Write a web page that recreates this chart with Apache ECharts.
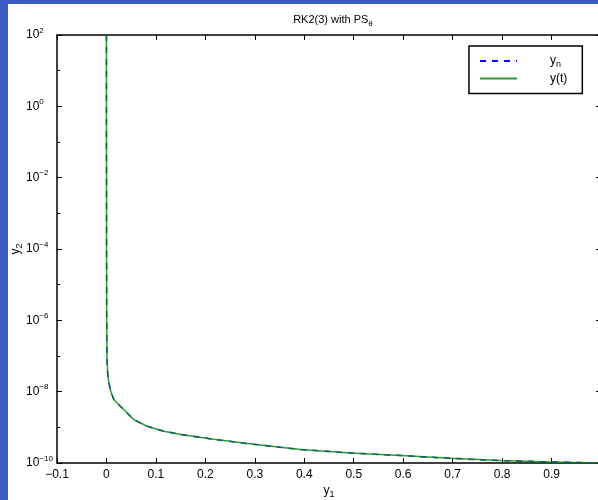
<!DOCTYPE html>
<html>
<head>
<meta charset="utf-8">
<title>RK2(3) with PS</title>
<script src="https://cdn.jsdelivr.net/npm/echarts@6/dist/echarts.min.js"></script>
<style>
  html, body { margin: 0; padding: 0; background: #fff; }
  #chart { width: 598px; height: 500px; }
</style>
</head>
<body>
<div id="chart"></div>
<script>
// values (y1 on x, y2 on a log scale)
const y1Values = [0, 0, 0.0002, 0.0005, 0.001, 0.0025, 0.0047, 0.009, 0.0148, 0.028, 0.055,
  0.082, 0.116, 0.15, 0.217, 0.285, 0.352, 0.392, 0.494, 0.595, 0.696, 0.797, 0.898, 1.0];
const y2Values = [100, 1, 1e-4, 1e-6, 1e-7, 3.2e-8, 1.8e-8, 1.0e-8, 6.0e-9, 3.9e-9, 1.66e-9,
  1.07e-9, 7.8e-10, 6.3e-10, 4.6e-10, 3.5e-10, 2.75e-10, 2.4e-10, 1.9e-10, 1.62e-10, 1.35e-10,
  1.17e-10, 1.07e-10, 1.0e-10];
// numerical solution y_n sits on top of the exact one
const ynY1 = y1Values.slice();
const ynY2 = y2Values.slice();

const xTicks = { min: -0.1, max: 1.0, step: 0.1 };
const yTicks = { min: 1e-10, max: 1e2 };

const font = 'Liberation Sans, Arial, Helvetica, sans-serif';

function pairs(xs, ys) {
  return xs.map((x, i) => [x, ys[i]]);
}

function xLabel(v) {
  if (v > 0.95) return '';
  const s = Math.abs(v) < 1e-9 ? '0' : (+v.toFixed(1)).toString();
  return s.replace('-', '\u2212');
}

function yLabel(v) {
  const e = Math.round(Math.log10(v));
  return '{b|10}{s|' + String(e).replace('-', '\u2212') + '}';
}

const chart = echarts.init(document.getElementById('chart'));

const tickStyle = { color: '#000', width: 1 };
const axisLine = { show: true, onZero: false, lineStyle: { color: '#000', width: 1.5 } };
const noLine = { show: false, onZero: false };

chart.setOption({
  animation: false,
  backgroundColor: '#fff',
  textStyle: { fontFamily: font },
  title: {
    text: 'RK2(3) with PS{s|\u03b8}',
    left: 328,
    textAlign: 'center',
    top: 7,
    textStyle: {
      fontFamily: font, fontSize: 11, fontWeight: 'normal', color: '#000',
      rich: { s: { fontFamily: font, fontSize: 8, color: '#000', padding: [8, 0, 0, 0] } }
    }
  },
  graphic: [
    { type: 'rect', shape: { x: 0, y: 0, width: 8, height: 500 }, style: { fill: '#3a5bc7' }, z: 100 },
    { type: 'rect', shape: { x: 0, y: 0, width: 598, height: 4 }, style: { fill: '#3a5bc7' }, z: 100 }
  ],
  grid: { left: 57, top: 35, width: 544, height: 428, outerBoundsMode: 'none', containLabel: false },
  legend: {
    orient: 'vertical',
    left: 469,
    top: 46,
    padding: [9, 15, 9, 10],
    itemWidth: 37,
    itemHeight: 14,
    itemGap: 3,
    borderColor: '#000',
    borderWidth: 1.5,
    backgroundColor: '#fff',
    itemStyle: { opacity: 0, borderWidth: 0 },
    data: ['yn', 'y(t)'],
    formatter: function (name) {
      return name === 'yn' ? '{b|y}{s|n}' : '{b|y(t)}';
    },
    textStyle: {
      fontFamily: font, fontSize: 12, color: '#000', padding: [0, 0, 0, 28],
      rich: {
        b: { fontFamily: font, fontSize: 12, color: '#000' },
        s: { fontFamily: font, fontSize: 9, color: '#000', padding: [8, 0, 0, 0] }
      }
    }
  },
  xAxis: [
    {
      type: 'value', position: 'bottom',
      min: xTicks.min, max: xTicks.max, interval: xTicks.step,
      axisLine: axisLine,
      axisTick: { show: true, inside: true, length: 5, lineStyle: tickStyle },
      splitLine: { show: false },
      axisLabel: { margin: 6, fontFamily: font, fontSize: 12, color: '#000', formatter: xLabel, showMaxLabel: true },
      name: '{b|y}{s|1}',
      nameLocation: 'middle',
      nameGap: 19,
      nameMoveOverlap: false,
      nameTextStyle: {
        fontFamily: font, fontSize: 12, color: '#000',
        rich: {
          b: { fontFamily: font, fontSize: 12, color: '#000' },
          s: { fontFamily: font, fontSize: 9, color: '#000', padding: [8, 0, 0, 0] }
        }
      }
    },
    {
      type: 'value', position: 'top',
      min: xTicks.min, max: xTicks.max, interval: xTicks.step,
      axisLine: axisLine,
      axisTick: { show: true, inside: true, length: 5, lineStyle: tickStyle },
      splitLine: { show: false },
      axisLabel: { show: false }
    }
  ],
  yAxis: [
    {
      type: 'log', logBase: 10, position: 'left',
      min: yTicks.min, max: yTicks.max, interval: 2,
      axisLine: axisLine,
      axisTick: { show: true, inside: true, length: 5, lineStyle: tickStyle },
      splitLine: { show: false },
      minorTick: { show: false },
      axisLabel: {
        align: 'left', margin: 31, formatter: yLabel,
        rich: {
          b: { fontFamily: font, fontSize: 12, color: '#000' },
          s: { fontFamily: font, fontSize: 8, color: '#000', padding: [0, 0, 9, 0] }
        }
      },
      name: '{b|y}{s|2}',
      nameLocation: 'middle',
      nameRotate: 90,
      nameGap: 33,
      nameMoveOverlap: false,
      nameTextStyle: {
        fontFamily: font, fontSize: 12, color: '#000',
        rich: {
          b: { fontFamily: font, fontSize: 12, color: '#000' },
          s: { fontFamily: font, fontSize: 9, color: '#000', padding: [8, 0, 0, 0] }
        }
      }
    },
    {
      type: 'log', logBase: 10, position: 'left',
      min: yTicks.min, max: yTicks.max, interval: 1,
      axisLine: noLine,
      axisTick: { show: true, inside: true, length: 3, lineStyle: tickStyle },
      splitLine: { show: false },
      axisLabel: { show: false }
    },
    {
      type: 'log', logBase: 10, position: 'right',
      min: yTicks.min, max: yTicks.max, interval: 2,
      axisLine: axisLine,
      axisTick: { show: true, inside: true, length: 5, lineStyle: tickStyle },
      splitLine: { show: false },
      axisLabel: { show: false }
    },
    {
      type: 'log', logBase: 10, position: 'right',
      min: yTicks.min, max: yTicks.max, interval: 1,
      axisLine: noLine,
      axisTick: { show: true, inside: true, length: 3, lineStyle: tickStyle },
      splitLine: { show: false },
      axisLabel: { show: false }
    }
  ],
  series: [
    {
      name: 'yn', type: 'line', xAxisIndex: 0, yAxisIndex: 0,
      data: pairs(ynY1, ynY2),
      showSymbol: false, symbol: 'none', clip: true,
      lineStyle: { color: '#0000ff', width: 1.5, type: [6, 6] },
      itemStyle: { color: '#0000ff' },
      z: 2
    },
    {
      name: 'y(t)', type: 'line', xAxisIndex: 0, yAxisIndex: 0,
      data: pairs(y1Values, y2Values),
      showSymbol: false, symbol: 'none', clip: true,
      lineStyle: { color: '#0a8a0a', width: 1.5, opacity: 0.85 },
      itemStyle: { color: '#0a8a0a' },
      z: 3
    }
  ]
});
</script>
</body>
</html>
